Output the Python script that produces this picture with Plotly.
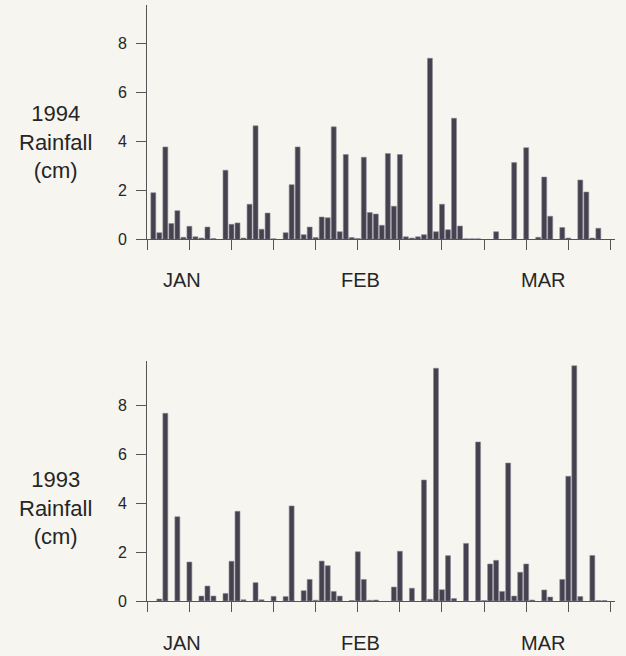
import plotly.graph_objects as go

# Day index (1 = first day of the plotted period) and daily rainfall (cm)
days_1994 = [1, 2, 3, 4, 5, 6, 7, 8, 9, 10, 11, 13, 14, 15, 16, 17, 18, 19, 20, 21,
             23, 24, 25, 26, 27, 28, 29, 30, 31, 32, 33, 34, 35, 36, 37, 38, 39, 40,
             41, 42, 43, 44, 45, 46, 47, 48, 49, 50, 51, 52, 53, 54, 55, 58, 61, 63,
             65, 66, 67, 69, 70, 72, 73, 74, 75]
rain_1994 = [1.90, 0.27, 3.77, 0.64, 1.17, 0.08, 0.53, 0.10, 0.05, 0.50, 0.03, 2.82,
             0.61, 0.67, 0.05, 1.43, 4.63, 0.41, 1.07, 0.02, 0.27, 2.23, 3.77, 0.19,
             0.50, 0.07, 0.91, 0.88, 4.59, 0.31, 3.46, 0.07, 0.03, 3.35, 1.09, 1.03,
             0.57, 3.50, 1.35, 3.46, 0.10, 0.05, 0.10, 0.19, 7.39, 0.31, 1.43, 0.39,
             4.94, 0.54, 0.02, 0.02, 0.02, 0.31, 3.13, 3.74, 0.08, 2.54, 0.94, 0.48,
             0.05, 2.42, 1.93, 0.05, 0.45]

days_1993 = [2, 3, 5, 7, 9, 10, 11, 13, 14, 15, 16, 18, 19, 21, 23, 24, 26, 27, 28,
             29, 30, 31, 32, 34, 35, 36, 37, 38, 41, 42, 44, 46, 47, 48, 49, 50, 51,
             53, 55, 56, 57, 58, 59, 60, 61, 62, 63, 64, 66, 67, 69, 70, 71, 72, 74,
             75, 76]
rain_1993 = [0.08, 7.66, 3.44, 1.59, 0.20, 0.61, 0.20, 0.31, 1.62, 3.66, 0.05, 0.75,
             0.05, 0.19, 0.18, 3.88, 0.42, 0.88, 0.03, 1.63, 1.44, 0.39, 0.20, 0.02,
             2.01, 0.88, 0.03, 0.04, 0.57, 2.03, 0.52, 4.94, 0.07, 9.50, 0.46, 1.85,
             0.10, 2.35, 6.49, 0.02, 1.51, 1.66, 0.39, 5.63, 0.20, 1.17, 1.51, 0.04,
             0.45, 0.16, 0.88, 5.09, 9.60, 0.18, 1.86, 0.02, 0.02]

y_ticks = [0, 2, 4, 6, 8]
x_ticks = list(range(0, 78, 7))
month_labels = ["JAN", "FEB", "MAR"]
month_pos = [5.8, 35.5, 65.8]
panel_titles = ["1994<br>Rainfall<br>(cm)", "1993<br>Rainfall<br>(cm)"]

W, H = 626, 656
BG = "#f6f5f0"
BAR = "#45414f"
TXT = "#262626"
FONT = "Liberation Sans, Arial, sans-serif"

fig = go.Figure()

fig.add_trace(go.Bar(x=days_1994, y=rain_1994, marker=dict(color=BAR, line=dict(color="#8a8794", width=0.6)),
                     width=0.82, xaxis="x", yaxis="y", showlegend=False))
fig.add_trace(go.Bar(x=days_1993, y=rain_1993, marker=dict(color=BAR, line=dict(color="#8a8794", width=0.6)),
                     width=0.82, xaxis="x2", yaxis="y2", showlegend=False))

x0_px = 147.3
px_day = 6.014
xmax = 77.8
xdom = [x0_px / W, (x0_px + xmax * px_day) / W]

def ydom(base_px, top_px):
    return [(H - base_px) / H, (H - top_px) / H]

top_base, top_top = 239.3, 5.0
bot_base, bot_top = 601.0, 361.0
px_cm = 24.5

xaxis_common = dict(range=[0, xmax], domain=xdom, tickvals=x_ticks, showticklabels=False,
                    ticks="outside", ticklen=10, tickcolor="#555", tickwidth=1,
                    showline=True, linecolor="#4b4f86", linewidth=1.2,
                    showgrid=False, zeroline=False, fixedrange=True)
yaxis_common = dict(tickvals=y_ticks, ticks="outside", ticklen=10, tickcolor="#555", tickwidth=1,
                    showline=True, linecolor="#555", linewidth=1.2, showgrid=False, zeroline=False,
                    tickfont=dict(family=FONT, size=16, color=TXT), ticklabelstandoff=6)

fig.update_layout(
    width=W, height=H,
    margin=dict(l=0, r=0, t=0, b=0, autoexpand=False),
    paper_bgcolor=BG, plot_bgcolor=BG,
    bargap=0.15,
    xaxis=dict(**xaxis_common, anchor="y"),
    xaxis2=dict(**xaxis_common, anchor="y2"),
    yaxis=dict(**yaxis_common, anchor="x", domain=ydom(top_base, top_top),
               range=[0, (top_base - top_top) / px_cm]),
    yaxis2=dict(**yaxis_common, anchor="x2", domain=ydom(bot_base, bot_top),
                range=[0, (bot_base - bot_top) / px_cm]),
    font=dict(family=FONT, color=TXT),
)

annotations = []
for yc, title in zip([142, 508], panel_titles):
    annotations.append(dict(text=title, x=55 / W, y=(H - yc) / H, xref="paper", yref="paper",
                            xanchor="center", yanchor="middle", showarrow=False, align="center",
                            font=dict(family=FONT, size=22, color=TXT)))
for xref, yc in [("x", 280), ("x2", 643)]:
    for lab, pos in zip(month_labels, month_pos):
        annotations.append(dict(text=lab, x=pos, y=(H - yc) / H, xref=xref, yref="paper",
                                xanchor="center", yanchor="middle", showarrow=False,
                                font=dict(family=FONT, size=20, color=TXT)))
fig.update_layout(annotations=annotations)

fig.write_html("out.html")
